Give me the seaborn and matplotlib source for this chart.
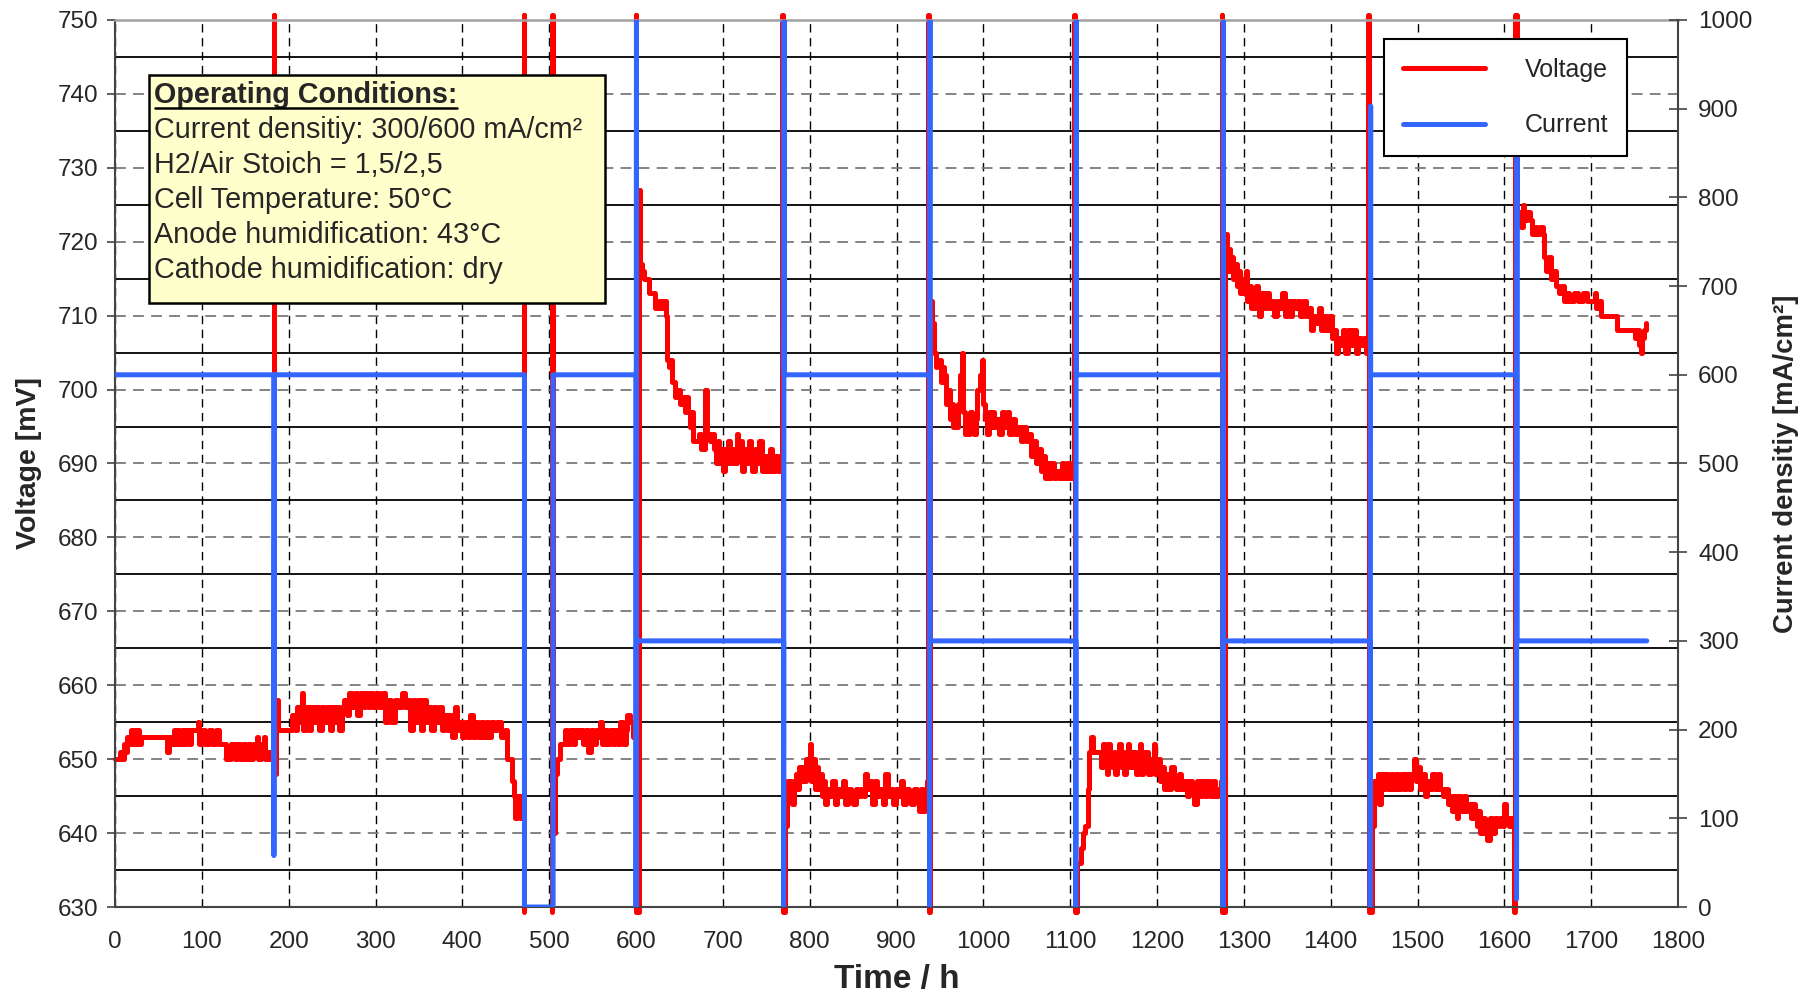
import matplotlib
matplotlib.use("Agg")
import matplotlib.pyplot as plt
import matplotlib.ticker as ticker
from matplotlib.patches import Rectangle
import numpy as np
import pandas as pd
import seaborn as sns

# voltage readings (time in h, voltage in mV)
# run 1: 0 - 471 h (shutdown 471-503 h)
volt_run1 = [
    (0, 650), (4, 650), (6, 651), (8, 650), (10, 652), (12, 651), (14, 653), (16, 652), (18, 654),
    (20, 652), (22, 654), (24, 652), (26, 654), (28, 652), (30, 653), (45, 653), (58, 653), (60, 651),
    (62, 653), (66, 652), (68, 654), (70, 652), (72, 654), (74, 652), (77, 654), (80, 652), (82, 654),
    (85, 652), (88, 654), (92, 654), (95, 655), (97, 652), (100, 654), (104, 652), (108, 654),
    (112, 652), (116, 654), (120, 652), (126, 652), (128, 650), (132, 650), (134, 652), (138, 650),
    (141, 652), (144, 650), (147, 652), (150, 650), (153, 652), (156, 650), (159, 652), (163, 653),
    (165, 650), (168, 652), (171, 653), (173, 650), (176, 651), (178, 650), (182.5, 650),
    (183, 750.7), (183.5, 648), (185, 658), (188, 654), (202, 654),
    (204, 656), (207, 654), (210, 657), (213, 655), (215, 659), (217, 654), (220, 657), (223, 654),
    (226, 657), (229, 655), (232, 657), (235, 654), (238, 657), (241, 655), (244, 657), (247, 654),
    (250, 657), (253, 655), (256, 657), (258, 654), (261, 657), (264, 658), (267, 656), (270, 659),
    (273, 657), (276, 659), (279, 656), (282, 659), (285, 657), (288, 659), (291, 657), (294, 659),
    (297, 657), (300, 659), (304, 657), (308, 659), (311, 655), (314, 658), (318, 655), (322, 658),
    (326, 657), (330, 659), (334, 657), (337, 658), (340, 654), (343, 658), (346, 655), (349, 658),
    (352, 654), (355, 658), (358, 655), (361, 657), (364, 654), (367, 657), (370, 655), (373, 657),
    (376, 654), (379, 656), (382, 654), (385, 656), (388, 653), (391, 657), (394, 654), (397, 655),
    (400, 653), (403, 655), (406, 653), (409, 656), (412, 653), (415, 655), (418, 653), (421, 655),
    (424, 653), (427, 655), (430, 653), (433, 655), (436, 654), (440, 655), (444, 653), (449, 654),
    (451, 650), (455, 650), (457, 647), (459, 645), (461, 642), (463, 645), (466, 642), (468, 645),
    (469, 642), (471, 750.7), (471.5, 629.3),
]

# run 2: 503 - 1765 h, with restarts at 600, 770, 938, 1107, 1276, 1446, 1614 h
volt_run2 = [
    (503, 629.3), (503.5, 750.7), (504, 640), (507, 648), (509, 650), (512, 652), (515, 652),
    (518, 654), (521, 652), (524, 654), (527, 652), (530, 654), (533, 653), (536, 654), (539, 652),
    (542, 654), (545, 651), (548, 654), (551, 652), (554, 654), (557, 653), (558, 655), (561, 652),
    (564, 654), (567, 652), (570, 654), (573, 652), (576, 654), (579, 652), (582, 655), (585, 652),
    (588, 654), (590, 656), (593, 655), (596, 653), (598, 655), (599, 654),
    (599.5, 750.7), (600, 629.3), (603, 727),
    (604, 720), (605, 717), (607, 716), (609, 715), (613, 715), (615, 713), (620, 713), (622, 711),
    (626, 712), (629, 711), (631, 712), (634, 710), (636, 704), (638, 703), (640, 704), (641, 701),
    (643, 701), (645, 699), (648, 700), (651, 698), (654, 699), (656, 697), (658, 699), (660, 697),
    (662, 695), (664, 697), (666, 693), (670, 693), (673, 694), (675, 692), (678, 692), (680, 700),
    (682, 694), (685, 693), (688, 694), (690, 692), (692, 690), (694, 693), (696, 690), (698, 692),
    (700, 689), (702, 692), (704, 690), (706, 693), (708, 690), (710, 692), (713, 690), (716, 694),
    (718, 691), (720, 693), (722, 689), (724, 692), (727, 690), (730, 693), (732, 691), (734, 689),
    (737, 692), (740, 690), (742, 693), (745, 689), (748, 691), (751, 689), (754, 692), (757, 689),
    (760, 691), (763, 689), (766, 690), (768, 692),
    (768.5, 750.7), (769, 629.3), (772, 641), (774, 647),
    (776, 645), (778, 647), (780, 644), (782, 646), (784, 648), (786, 646), (788, 649), (790, 647),
    (792, 649), (794, 647), (796, 650), (798, 648), (800, 652), (802, 647), (804, 650), (806, 646),
    (808, 649), (810, 646), (812, 648), (814, 645), (816, 647), (818, 644), (820, 646), (823, 645),
    (826, 647), (829, 644), (832, 646), (835, 645), (838, 647), (841, 644), (844, 646), (847, 645),
    (850, 644), (853, 646), (856, 645), (859, 646), (862, 645), (864, 648), (866, 646), (869, 647),
    (872, 644), (875, 647), (878, 645), (881, 646), (884, 644), (887, 648), (890, 645), (893, 646),
    (896, 644), (899, 646), (902, 645), (905, 647), (908, 644), (911, 646), (914, 645), (917, 644),
    (920, 646), (923, 645), (926, 643), (928, 646), (930, 643), (933, 644), (935, 647), (936, 645),
    (936.5, 750.7), (937, 629.3), (939, 712), (941, 709), (943, 705), (945, 703), (947, 704),
    (951, 701), (953, 703), (955, 702), (957, 698), (959, 700), (961, 696), (963, 698), (965, 695),
    (967, 697), (969, 695), (971, 698), (973, 702), (975, 705), (977, 697), (979, 694), (981, 696),
    (983, 694), (985, 697), (987, 695), (989, 694), (991, 696), (993, 700), (996, 702), (998, 704),
    (1000, 698), (1002, 696), (1004, 694), (1006, 697), (1008, 695), (1010, 697), (1012, 695),
    (1015, 696), (1018, 694), (1021, 697), (1024, 695), (1027, 697), (1030, 694), (1033, 696),
    (1036, 694), (1040, 695), (1043, 693), (1046, 695), (1049, 693), (1052, 694), (1055, 691),
    (1058, 693), (1061, 690), (1063, 692), (1066, 689), (1068, 691), (1071, 688), (1073, 690),
    (1076, 688), (1078, 690), (1081, 688), (1084, 689), (1087, 688), (1090, 690), (1093, 688),
    (1096, 690), (1099, 688), (1102, 690), (1104, 692),
    (1104.5, 750.7), (1105, 629.3), (1108, 636), (1112, 638), (1115, 640), (1117, 641),
    (1120, 646), (1122, 651), (1124, 653), (1126, 651), (1130, 651), (1134, 651), (1136, 649),
    (1138, 652), (1140, 650), (1142, 648), (1144, 652), (1146, 650), (1148, 649), (1150, 651),
    (1152, 648), (1154, 650), (1156, 652), (1158, 649), (1160, 651), (1162, 648), (1164, 650),
    (1166, 652), (1168, 649), (1170, 651), (1172, 649), (1174, 651), (1176, 648), (1178, 650),
    (1180, 652), (1182, 648), (1184, 651), (1186, 649), (1188, 651), (1190, 648), (1193, 650),
    (1196, 652), (1198, 648), (1200, 650), (1203, 647), (1206, 649), (1208, 646), (1210, 648),
    (1213, 646), (1216, 649), (1219, 647), (1222, 646), (1225, 648), (1228, 646), (1231, 647),
    (1234, 645), (1237, 647), (1240, 646), (1243, 644), (1246, 647), (1249, 645), (1252, 647),
    (1255, 645), (1258, 647), (1261, 645), (1264, 647), (1267, 645), (1270, 646), (1274, 647),
    (1274.5, 750.7), (1275, 629.3), (1278, 721), (1280, 716),
    (1282, 719), (1284, 716), (1286, 718), (1288, 715), (1290, 717), (1292, 714), (1294, 716),
    (1296, 713), (1298, 715), (1300, 713), (1302, 716), (1304, 712), (1306, 714), (1308, 711),
    (1310, 713), (1312, 711), (1314, 714), (1316, 712), (1318, 710), (1320, 713), (1323, 711),
    (1326, 713), (1329, 711), (1332, 712), (1335, 710), (1338, 712), (1341, 711), (1344, 713),
    (1347, 710), (1350, 712), (1353, 710), (1356, 712), (1359, 711), (1362, 712), (1365, 710),
    (1368, 712), (1371, 710), (1374, 711), (1377, 708), (1380, 710), (1383, 709), (1386, 711),
    (1389, 708), (1392, 710), (1395, 708), (1398, 710), (1401, 707), (1404, 708), (1406, 705),
    (1408, 707), (1411, 706), (1414, 708), (1417, 705), (1420, 708), (1423, 706), (1426, 708),
    (1429, 705), (1432, 707), (1435, 706), (1438, 707), (1441, 705), (1443, 709),
    (1443.5, 750.7), (1444, 629.3), (1447, 641), (1450, 647),
    (1452, 646), (1454, 648), (1456, 644), (1458, 648), (1460, 646), (1463, 648), (1466, 646),
    (1469, 648), (1472, 646), (1475, 648), (1478, 646), (1481, 648), (1484, 646), (1487, 648),
    (1490, 646), (1493, 648), (1496, 650), (1498, 647), (1500, 649), (1503, 646), (1506, 648),
    (1509, 645), (1511, 647), (1514, 646), (1517, 648), (1520, 646), (1523, 648), (1526, 646),
    (1529, 645), (1532, 646), (1535, 644), (1538, 645), (1540, 643), (1542, 645), (1545, 642),
    (1547, 645), (1550, 643), (1553, 645), (1556, 643), (1559, 644), (1562, 642), (1564, 644),
    (1566, 642), (1568, 641), (1570, 643), (1572, 640), (1575, 642), (1578, 640), (1580, 639),
    (1583, 642), (1586, 640), (1589, 642), (1592, 641), (1595, 642), (1598, 641), (1600, 644),
    (1602, 642), (1605, 641), (1608, 642), (1610, 641), (1611, 642),
    (1611.5, 629.3), (1612, 750.7), (1615, 723),
    (1617, 724), (1619, 722), (1621, 725), (1623, 723), (1626, 724), (1629, 723), (1632, 721),
    (1635, 722), (1638, 721), (1641, 722), (1644, 721), (1646, 718), (1648, 716), (1651, 718),
    (1654, 715), (1657, 716), (1660, 714), (1663, 713), (1666, 714), (1669, 712), (1672, 713),
    (1675, 712), (1680, 713), (1685, 712), (1690, 713), (1695, 712), (1700, 712), (1704, 713),
    (1706, 711), (1709, 712), (1711, 710), (1720, 710), (1728, 710), (1730, 708), (1740, 708),
    (1745, 708), (1750, 707), (1752, 708), (1755, 706), (1757, 705), (1759, 707), (1761, 708),
    (1763, 709),
]

# current density setpoints (time in h, mA/cm2)
current = [
    (0, 600), (183, 600), (183, 58), (183.4, 600), (471.5, 600), (471.5, 0), (504.5, 0),
    (504.5, 600), (600, 600), (600, 0), (600.5, 1000), (600.5, 300), (770, 300), (770, 0),
    (770.5, 1000), (770.5, 600), (938, 600), (938, 0), (938.5, 1000), (938.5, 300),
    (1106.5, 300), (1106.5, 0), (1107, 1000), (1107, 600), (1276, 600), (1276, 0),
    (1276.5, 1000), (1276.5, 300), (1445.5, 300), (1445.5, 0), (1446, 903), (1446, 600),
    (1614, 600), (1614, 9), (1614.5, 880), (1614.5, 300), (1764, 300),
]

conditions_title = "Operating Conditions:"
conditions = [
    "Current densitiy: 300/600 mA/cm²",
    "H2/Air Stoich = 1,5/2,5",
    "Cell Temperature: 50°C",
    "Anode humidification: 43°C",
    "Cathode humidification: dry",
]

sns.set_style("white")
plt.rcParams["font.family"] = ["Liberation Sans", "DejaVu Sans"]

df_v = pd.DataFrame(volt_run1 + volt_run2, columns=["Time", "Voltage"])
df_v["run"] = [1] * len(volt_run1) + [2] * len(volt_run2)
df_c = pd.DataFrame(current, columns=["Time", "Current"])

fig = plt.figure(figsize=(18.2, 9.93), dpi=100)
ax = fig.add_axes([0.0632, 0.0866, 0.8588, 0.8933])
ax2 = ax.twinx()

sns.lineplot(data=df_v, x="Time", y="Voltage", units="run", estimator=None, sort=False,
             color="#ff0000", linewidth=3.6, drawstyle="steps-post", clip_on=False,
             legend=False, ax=ax)
sns.lineplot(data=df_c, x="Time", y="Current", estimator=None, sort=False,
             color="#3366ff", linewidth=3.6, legend=False, ax=ax2)

ax.set_xlim(0, 1800)
ax.set_ylim(630, 750)
ax2.set_ylim(0, 1000)
ax.set_xticks(np.arange(0, 1801, 100))
ax.set_yticks(np.arange(630, 751, 10))
ax2.set_yticks(np.arange(0, 1001, 100))
ax.yaxis.set_minor_locator(ticker.FixedLocator(np.arange(635, 750, 10)))

# grid: dashed at major ticks, solid black at the half steps
ax.xaxis.grid(True, which="major", color="black", linestyle=(0, (6, 4)), linewidth=1.0)
ax.yaxis.grid(True, which="major", color="#7a7a7a", linestyle=(0, (6, 4)), linewidth=1.3)
ax.yaxis.grid(True, which="minor", color="black", linestyle="-", linewidth=1.3)
ax2.grid(False)

spine_col = "#444444"
for s in ["left", "bottom"]:
    ax.spines[s].set_color(spine_col)
    ax.spines[s].set_linewidth(1.5)
ax.spines["top"].set_color("#a0a0a0")
ax.spines["top"].set_linewidth(1.8)
ax.spines["right"].set_visible(False)
for s in ["left", "bottom", "top"]:
    ax2.spines[s].set_visible(False)
ax2.spines["right"].set_color(spine_col)
ax2.spines["right"].set_linewidth(1.5)

ax.tick_params(axis="x", which="major", direction="out", length=5, width=1.2,
               color=spine_col, labelsize=17.5, pad=12)
ax.tick_params(axis="y", which="major", direction="out", length=6, width=1.2,
               color=spine_col, labelsize=17.5, pad=6)
ax.tick_params(axis="y", which="minor", length=0)
ax2.tick_params(axis="y", direction="inout", length=13, width=1.2,
                color=spine_col, labelsize=17.5, pad=8)

ax.set_xlabel("Time / h", fontsize=24, fontweight="bold")
ax.xaxis.set_label_coords(0.5, -0.064)
ax.set_ylabel("Voltage [mV]", fontsize=20.5, fontweight="bold")
ax.yaxis.set_label_coords(-0.0468, 0.5)
ax2.set_ylabel("Current densitiy [mA/cm²]", fontsize=19.8, fontweight="bold")
ax2.yaxis.set_label_coords(1.061, 0.5)

# legend
h_v = ax.get_lines()[0]
h_c = ax2.get_lines()[0]
leg = ax2.legend([h_v, h_c], ["Voltage", "Current"], loc="upper right",
                 bbox_to_anchor=(0.9676, 0.978), fontsize=18, frameon=True,
                 fancybox=False, framealpha=1, edgecolor="black", borderpad=0.75,
                 handlelength=3.3, handletextpad=1.6, labelspacing=1.25, borderaxespad=0)
leg.get_frame().set_linewidth(1.5)

# operating conditions box
ax2.add_patch(Rectangle((0.0215, 0.681), 0.2918, 0.2565, transform=ax2.transAxes,
                        facecolor="#ffffcc", edgecolor="black", linewidth=1.8, zorder=9))
title = ax2.text(0.0252, 0.9152, conditions_title, transform=ax2.transAxes, fontsize=20.7,
                 fontweight="bold", va="center", ha="left", zorder=10)
for i, line in enumerate(conditions):
    ax2.text(0.0252, 0.8757 - i * 0.0395, line, transform=ax2.transAxes, fontsize=20.7,
             va="center", ha="left", zorder=10)

# underline the heading
fig.canvas.draw()
bb = title.get_window_extent(fig.canvas.get_renderer())
inv = ax2.transAxes.inverted()
ux0 = inv.transform((bb.x0 + 1, bb.y0))[0]
ux1 = inv.transform((bb.x1 - 1, bb.y0))[0]
ax2.plot([ux0, ux1], [0.9005, 0.9005], transform=ax2.transAxes, color="black",
         linewidth=1.8, zorder=10, clip_on=False)

fig.savefig("out.png", dpi=100)
